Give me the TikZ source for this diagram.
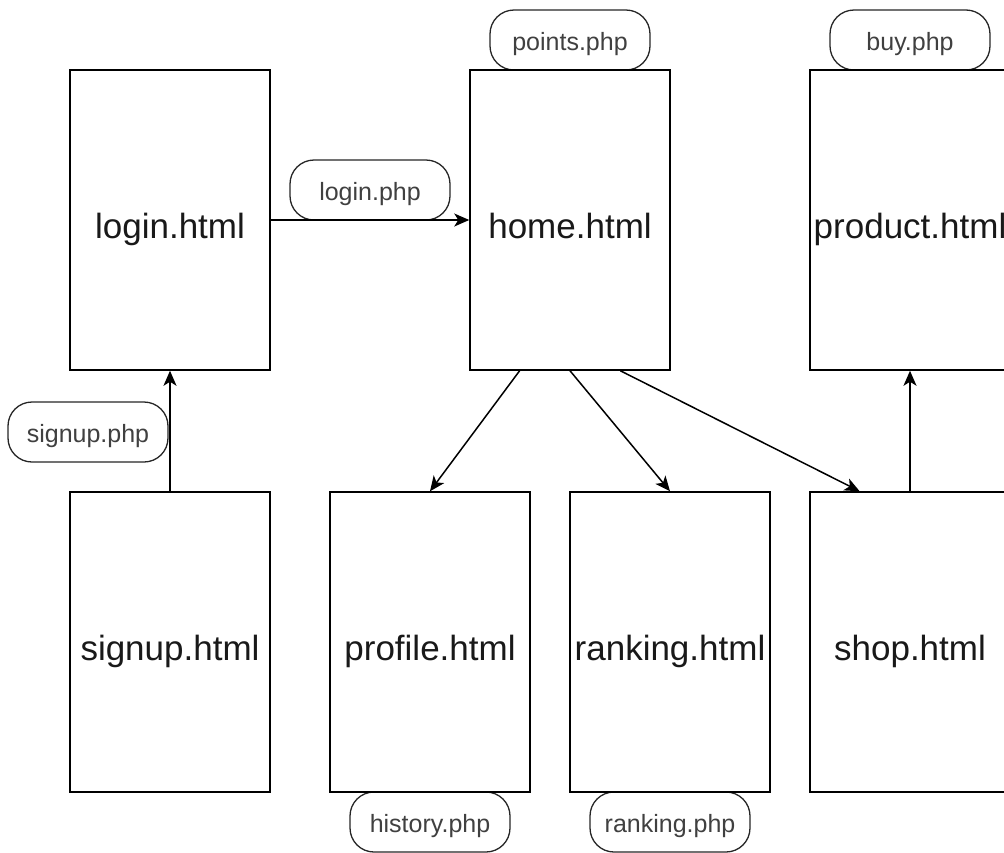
\documentclass[tikz,border=0pt]{standalone}
\usepackage{fontspec}
\setmainfont{Liberation Sans}
\usetikzlibrary{arrows.meta,calc}
\tikzset{
  page/.style={draw=black, line width=1.5pt, fill=white, minimum width=200pt, minimum height=300pt, inner sep=0pt, text height=36pt, text depth=0pt, font=\fontsize{35}{40}\selectfont, text=black!90},
  action/.style={draw=black!85, line width=1.3pt, fill=white, rounded corners=24pt, minimum width=160pt, minimum height=60pt, inner sep=0pt, text height=20pt, text depth=0pt, font=\fontsize{25}{30}\selectfont, text=black!75},
  link/.style={line width=1.5pt, -{Stealth[length=15pt,width=13pt,inset=4pt]}}
}
\begin{document}
\begin{tikzpicture}[x=1pt,y=-1pt]
\useasboundingbox (0,0) rectangle (1004,852);
\clip (0,0) rectangle (1004,852);
% pills behind pages
\node[action] (pointsphp) at (570,40) {points.php};
\node[action] (buyphp) at (910,40) {buy.php};
\node[action] (historyphp) at (430,822) {history.php};
\node[action] (rankingphp) at (670,822) {ranking.php};
% pages
\node[page] (login) at (170,220) {login.html};
\node[page] (home) at (570,220) {home.html};
\node[page] (product) at (910,220) {product.html};
\node[page] (signup) at (170,642) {signup.html};
\node[page] (profile) at (430,642) {profile.html};
\node[page] (ranking) at (670,642) {ranking.html};
\node[page] (shop) at (910,642) {shop.html};
% pills on connectors
\node[action] (loginphp) at (370,190) {login.php};
\node[action] (signupphp) at (88,432) {signup.php};
% connectors
\draw[link] (login.east) -- (home.west);
\draw[link] (signup.north) -- (login.south);
\draw[link] ($(home.south west)!0.25!(home.south east)$) -- (profile.north);
\draw[link] (home.south) -- (ranking.north);
\draw[link] ($(home.south west)!0.75!(home.south east)$) -- ($(shop.north west)!0.25!(shop.north east)$);
\draw[link] (shop.north) -- (product.south);
\end{tikzpicture}
\end{document}
